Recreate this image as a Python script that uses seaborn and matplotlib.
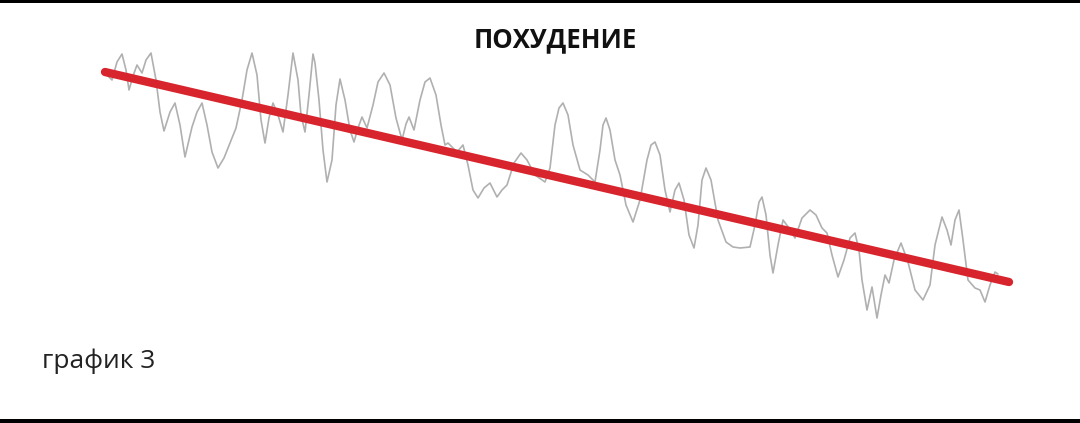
import matplotlib
matplotlib.use("Agg")
import matplotlib.pyplot as plt
import seaborn as sns
import pandas as pd

# ---- data (x = day position, y = weight level) ----
day = [108, 112, 117, 122, 126, 129, 133, 137, 142, 146, 151, 156, 160, 164, 170, 175,
       180, 185, 189, 192, 197, 202, 207, 212, 218, 224, 230, 236, 242, 247, 252, 257,
       261, 265, 269, 273, 278, 283, 288, 293, 298, 301, 305, 309, 313, 315, 319, 323,
       327, 332, 336, 340, 345, 350, 354, 358, 362, 367, 373, 378, 384, 390, 396, 402,
       406, 409, 414, 420, 425, 430, 436, 441, 445, 448, 452, 457, 463, 468, 473, 478,
       484, 490, 497, 502, 507, 514, 521, 527, 535, 545, 550, 555, 559, 563, 568, 573,
       580, 588, 595, 600, 603, 606, 610, 615, 620, 626, 633, 640, 647, 651, 655, 660,
       665, 670, 675, 679, 684, 689, 694, 698, 702, 706, 711, 718, 726, 733, 740, 750,
       755, 759, 762, 766, 770, 773, 778, 783, 789, 795, 802, 810, 816, 822, 827, 832,
       838, 844, 850, 855, 859, 862, 867, 872, 877, 881, 885, 889, 894, 901, 908, 915,
       923, 930, 935, 942, 947, 951, 955, 959, 963, 968, 975, 980, 985, 990, 995, 998]
weight_px = [76, 80, 62, 54, 70, 90, 76, 65, 73, 60, 53, 80, 112, 131, 112, 103,
             125, 157, 140, 127, 112, 103, 125, 152, 168, 158, 143, 128, 100, 70, 53, 75,
             120, 143, 118, 103, 115, 132, 95, 53, 80, 115, 132, 95, 54, 63, 100, 150,
             182, 160, 105, 79, 100, 130, 142, 128, 117, 128, 105, 82, 73, 85, 118, 140,
             124, 117, 130, 100, 82, 78, 95, 125, 145, 143, 147, 152, 145, 165, 190, 198,
             188, 183, 197, 190, 185, 163, 153, 160, 175, 182, 168, 125, 108, 103, 115, 145,
             170, 175, 182, 150, 125, 118, 130, 160, 175, 205, 222, 200, 160, 145, 142, 155,
             190, 212, 190, 183, 200, 235, 248, 225, 180, 168, 180, 220, 242, 247, 248, 247,
             225, 202, 197, 215, 255, 273, 245, 220, 228, 238, 218, 210, 215, 228, 233, 255,
             277, 260, 238, 233, 250, 280, 310, 287, 318, 295, 275, 283, 260, 243, 262, 290,
             300, 285, 245, 217, 230, 245, 220, 210, 240, 280, 288, 290, 302, 285, 272, 274]
weight = [423 - v for v in weight_px]

trend_day = [105, 1009]
trend_weight = [423 - 72, 423 - 282]

title_text = "ПОХУДЕНИЕ"
label_text = "график 3"

sns.set_theme(style="white")
plt.rcParams["font.family"] = ["Open Sans", "DejaVu Sans"]

fig = plt.figure(figsize=(10.8, 4.23), dpi=100)
ax = fig.add_axes([0, 0, 1, 1])
ax.set_xlim(0, 1080)
ax.set_ylim(0, 423)
ax.axis("off")

df = pd.DataFrame({"day": day, "weight": weight})
sns.lineplot(data=df, x="day", y="weight", sort=False, color="#b0b0b0",
             linewidth=1.2, ax=ax)
sns.lineplot(x=trend_day, y=trend_weight, sort=False, color="#d8252d",
             linewidth=6.0, ax=ax, solid_capstyle="round")

# black frame bands at top and bottom
ax.axhspan(420, 423, color="black", lw=0)
ax.axhspan(0, 4, color="black", lw=0)

ax.text(555, 423 - 40, title_text, ha="center", va="center",
        fontsize=18.5, fontweight="bold", color="#111111")
ax.text(42, 423 - 368, label_text, ha="left", va="baseline",
        fontsize=19, color="#222222")

fig.savefig("out.png", dpi=100)
